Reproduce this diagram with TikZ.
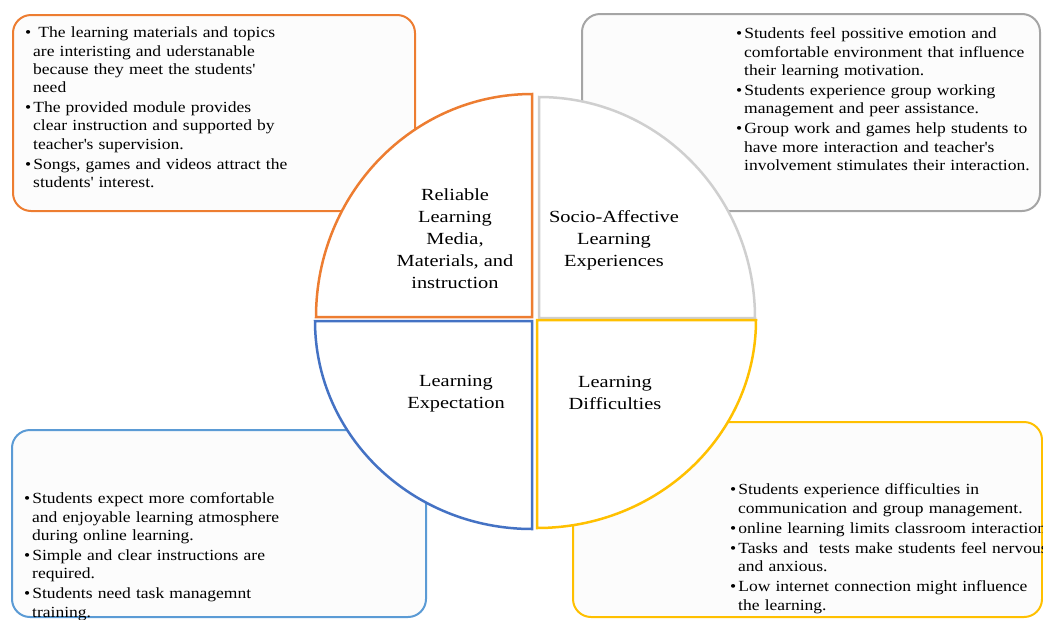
\documentclass[tikz,border=0pt]{standalone}
\usepackage{fontspec}
\setmainfont[FakeStretch=1.13]{Liberation Serif}
\newfontfamily\labelfont[FakeStretch=1.2]{Liberation Serif}
\definecolor{corange}{HTML}{ED7D31}
\definecolor{cgray}{HTML}{CFCFCF}
\definecolor{cgraybox}{HTML}{A5A5A5}
\definecolor{cblue}{HTML}{4472C4}
\definecolor{cbluebox}{HTML}{5B9BD5}
\definecolor{cyellow}{HTML}{FFC000}
\definecolor{boxfill}{HTML}{FCFCFC}
\newcommand{\sq}{\textquotesingle}
\newenvironment{blist}{\begin{list}{\textbullet}{\setlength{\leftmargin}{9pt}\setlength{\labelwidth}{6pt}\setlength{\labelsep}{2pt}\setlength{\itemsep}{2pt}\setlength{\parsep}{0pt}\setlength{\topsep}{0pt}\setlength{\partopsep}{0pt}\setlength{\itemindent}{0pt}}}{\end{list}}
\tikzset{
  infobox/.style={rounded corners=18pt, line width=2pt, fill=boxfill},
  quad/.style={line width=2.5pt, fill=white, line join=miter},
  itemtext/.style={anchor=north west, inner sep=0pt, text width=400pt, align=left, font=\fontsize{15.5}{18.2}\selectfont},
  label/.style={align=center, inner sep=0pt, font=\labelfont\fontsize{17}{22}\selectfont}
}
\begin{document}
\begin{tikzpicture}[x=1pt,y=-1pt]
\useasboundingbox (0,0) rectangle (1043,619);
% boxes
\draw[infobox, draw=corange] (13,15) rectangle (415,211);
\draw[infobox, draw=cgraybox] (582,14) rectangle (1040,211);
\draw[infobox, draw=cbluebox] (12,430) rectangle (426,617);
\draw[infobox, draw=cyellow] (573,422) rectangle (1042,617);
% quadrants
\draw[quad, draw=corange] (532,317) -- (316,317) arc[start angle=180, end angle=270, x radius=216, y radius=223] -- cycle;
\draw[quad, draw=cgray] (539,318) -- (539,97) arc[start angle=270, end angle=360, x radius=216, y radius=221] -- cycle;
\draw[quad, draw=cblue] (532,321) -- (315,321) arc[start angle=180, end angle=90, x radius=217, y radius=208] -- cycle;
\draw[quad, draw=cyellow] (537,320) -- (756,320) arc[start angle=0, end angle=90, x radius=219, y radius=208] -- cycle;
% labels
\node[label] (lrel) at (455,239) {Reliable\\Learning\\Media,\\Materials, and\\instruction};
\node[label] (lsoc) at (614,240) {Socio-Affective\\Learning\\Experiences};
\node[label] (lexp) at (456,394) {Learning\\Expectation};
\node[label] (ldif) at (615,393) {Learning\\Difficulties};
% texts
\node[itemtext] (ttl) at (24,19.5) {\begin{blist}
\item \ The learning materials and topics\\are interisting and uderstanable\\because they meet the students\sq\\need
\item The provided module provides\\clear instruction and supported by\\teacher\sq s supervision.
\item Songs, games and videos attract the\\students\sq{} interest.
\end{blist}};
\node[itemtext] (ttr) at (735,20.5) {\begin{blist}
\item Students feel possitive emotion and\\comfortable environment that influence\\their learning motivation.
\item Students experience group working\\management and peer assistance.
\item Group work and games help students to\\have more interaction and teacher\sq s\\involvement stimulates their interaction.
\end{blist}};
\node[itemtext] (tbl) at (23,485.5) {\begin{blist}
\item Students expect more comfortable\\and enjoyable learning atmosphere\\during online learning.
\item Simple and clear instructions are\\required.
\item Students need task managemnt\\training.
\end{blist}};
\node[itemtext] (tbr) at (729,476.5) {\begin{blist}
\item Students experience difficulties in\\communication and group management.
\item online learning limits classroom interaction.
\item Tasks and \ tests make students feel nervous\\and anxious.
\item Low internet connection might influence\\the learning.
\end{blist}};
\end{tikzpicture}
\end{document}
